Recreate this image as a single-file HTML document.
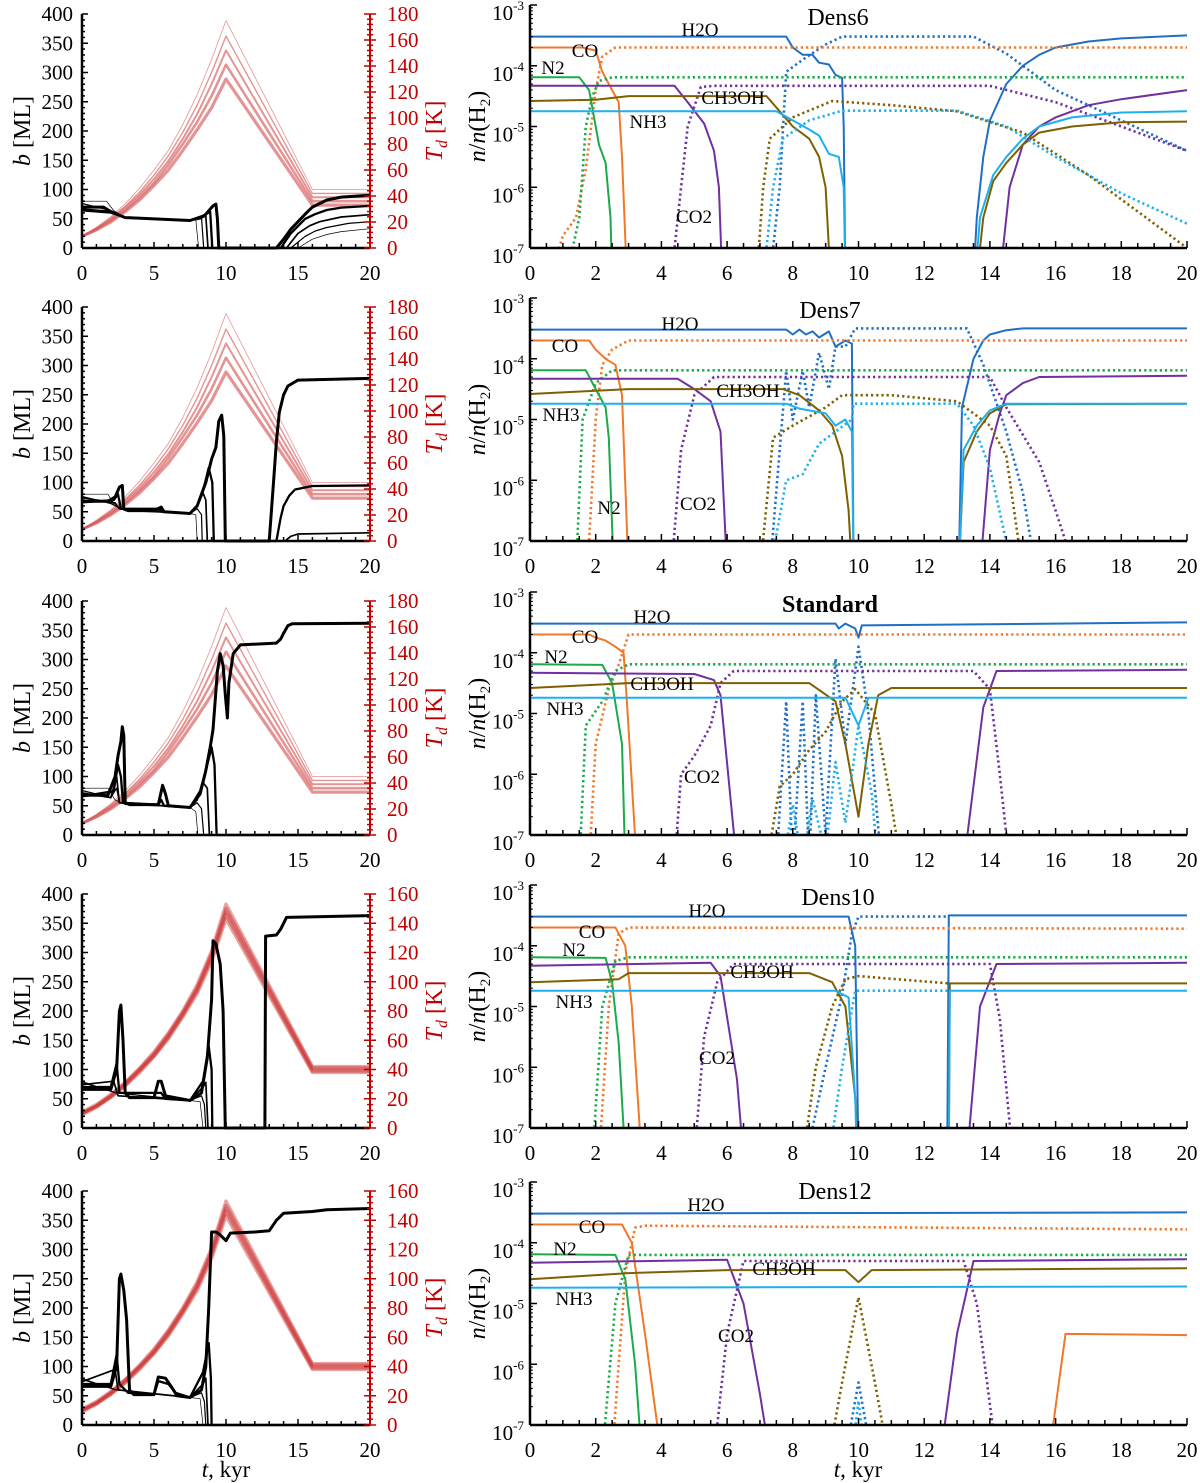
<!DOCTYPE html>
<html><head><meta charset="utf-8">
<style>
html,body{margin:0;padding:0;background:#fff;}
svg{display:block;font-family:"Liberation Serif",serif;}
</style></head>
<body>
<svg id="fig" width="1200" height="1483" viewBox="0 0 1200 1483" xmlns="http://www.w3.org/2000/svg"></svg>
<script>
// ---------- DATA ----------
const panelTitles = ["Dens6","Dens7","Standard","Dens10","Dens12"];
const tdAxisMax = [180,180,180,160,160];
const tdTimes = [0,1,2,3,4,5,6,7,8,9,10,16,20];
// Td profiles, rows 1-3
const tdProfilesA = [
 [9,16,24,34,46,60,75,95,118,145,175,45,45],
 [9,15,23,32,43,56,71,89,110,135,163,42,42],
 [9,15,22,31,41,53,67,84,103,126,152,39,39],
 [9,14,21,29,39,50,64,80,97,117,141,36,36],
 [9,14,20,28,37,48,60,75,91,108,130,33,33]
];
// Td profiles, rows 4-5
const tdProfilesB = [
 [11,16,23,31,41,52,65,80,98,121,153,42,42],
 [10,15,22,31,40,51,64,79,96,119,150,41,41],
 [10,15,22,30,40,50,63,78,95,118,148,40,40],
 [10,15,21,29,39,49,62,77,94,116,146,39,39],
 [9,14,21,29,38,49,61,76,92,114,143,38,38]
];
// b [ML] curves (t, b) per panel
const bCurves1 = [
 [[0,70],[1.5,70],[2,62],[3,52],[7.5,47],[8.5,55],[9.1,72],[9.3,75],[9.4,50],[9.5,0],[13.5,0],[14,15],[14.5,32],[15,45],[15.5,58],[16,70],[17,82],[18,87],[20,90]],
 [[0,66],[2,62],[3,52],[7.5,47],[8.4,55],[8.9,62],[9.05,0],[13.8,0],[14.5,25],[15.5,50],[16.2,58],[17,65],[18,69],[20,72]],
 [[0,64],[2,60],[3,52],[7.5,47],[8.2,50],[8.6,55],[8.75,0],[14.2,0],[15,25],[15.8,38],[16.5,45],[18,53],[20,57]],
 [[0,76],[2,64],[3,52],[7.5,47],[8,50],[8.3,52],[8.45,0],[14.5,0],[15.5,20],[16.2,29],[17,35],[18.5,42],[20,45]],
 [[0,80],[1.7,80],[2.2,64],[3,52],[7.5,47],[7.9,48],[8.1,0],[15,0],[16,15],[17,23],[18,28],[20,33]]
];
const bCurves2 = [
 [[0,68],[1.8,68],[2.3,75],[2.6,92],[2.8,95],[2.9,55],[3.2,52],[5,52],[5.5,58],[5.7,50],[7.5,47],[8,60],[8.6,100],[9,140],[9.3,160],[9.5,205],[9.7,215],[9.85,180],[9.95,0],[13,0],[13.3,100],[13.5,170],[13.7,220],[14,250],[14.3,265],[15,275],[20,278]],
 [[0,66],[2.2,70],[2.5,80],[2.7,55],[5.3,55],[5.6,50],[7.5,47],[8,60],[8.5,95],[8.8,125],[9.05,100],[9.15,0],[13.5,0],[13.8,40],[14,60],[14.4,78],[14.8,88],[16,94],[20,95]],
 [[0,74],[2.3,65],[2.6,55],[7.5,47],[8,60],[8.4,82],[8.6,70],[8.7,0],[14.1,0],[14.5,8],[15,12],[20,14]],
 [[0,76],[2,64],[3,52],[7.5,47],[8,55],[8.3,45],[8.35,0],[20,0]],
 [[0,80],[1.8,80],[2.3,60],[3,52],[7.5,47],[7.9,45],[8,0],[20,0]]
];
const bCurves3 = [
 [[0,68],[1.8,68],[2.3,100],[2.5,135],[2.7,160],[2.8,185],[2.9,170],[3,55],[3.3,52],[5.3,52],[5.6,85],[5.8,70],[6,50],[7.5,47],[8.2,70],[8.6,110],[8.9,150],[9.1,180],[9.4,280],[9.6,310],[9.8,290],[9.95,240],[10.1,200],[10.2,260],[10.5,310],[11,325],[13.5,328],[13.8,335],[14,345],[14.3,358],[14.6,361],[20,362]],
 [[0,66],[2.2,75],[2.5,120],[2.7,100],[2.85,55],[5.3,52],[5.5,60],[5.7,50],[7.5,47],[8.2,75],[8.6,110],[9,150],[9.2,120],[9.35,0],[20,0]],
 [[0,72],[2,64],[2.4,100],[2.6,55],[7.5,47],[8,60],[8.4,90],[8.7,80],[8.85,0],[20,0]],
 [[0,76],[2,64],[2.4,80],[2.6,55],[7.5,47],[8,55],[8.3,45],[8.45,0],[20,0]],
 [[0,80],[1.8,80],[2.3,60],[3,52],[7.5,47],[7.9,40],[8.05,0],[20,0]]
];
const bCurves4 = [
 [[0,66],[2,66],[2.4,100],[2.6,200],[2.7,210],[2.85,150],[3,60],[3.3,52],[5,52],[5.3,80],[5.5,80],[5.8,55],[7.5,47],[8.3,60],[8.7,120],[9,220],[9.1,320],[9.3,315],[9.6,280],[9.8,200],[9.95,0],[12.7,0],[12.75,328],[13.5,330],[13.8,340],[14.2,360],[20,363]],
 [[0,70],[2,70],[2.4,110],[2.6,60],[5.5,60],[5.8,50],[7.5,47],[8.4,80],[8.8,140],[9,100],[9.05,0],[20,0]],
 [[0,74],[2.2,80],[2.5,55],[7.5,47],[8.4,70],[8.6,78],[8.75,0],[20,0]],
 [[0,78],[2.4,60],[7.5,47],[8.3,55],[8.5,40],[8.6,0],[20,0]],
 [[0,80],[2.3,60],[7.5,47],[8.2,45],[8.4,0],[20,0]]
];
const bCurves5 = [
 [[0,66],[2,66],[2.4,100],[2.6,250],[2.7,258],[2.9,230],[3.1,180],[3.3,60],[3.6,52],[5,52],[5.3,82],[5.8,80],[6.3,62],[6.6,50],[7.5,47],[8.3,60],[8.6,100],[8.8,200],[9,330],[9.3,330],[9.6,325],[10,315],[10.3,328],[12,330],[13,332],[13.5,350],[14,362],[16,365],[17,368],[20,370]],
 [[0,70],[2,70],[2.4,120],[2.6,70],[3.2,55],[5,52],[5.3,75],[6,70],[6.5,55],[7.5,47],[8.4,90],[8.8,140],[8.95,80],[9,0],[20,0]],
 [[0,74],[2.3,95],[2.5,60],[7.5,47],[8.4,70],[8.6,80],[8.75,0],[20,0]],
 [[0,78],[2.4,60],[7.5,47],[8.3,55],[8.5,40],[8.6,0],[20,0]],
 [[0,80],[2.3,60],[7.5,47],[8.2,45],[8.4,0],[20,0]]
];
const bCurveSets = [bCurves1,bCurves2,bCurves3,bCurves4,bCurves5];
const bWidths = [3,2.3,1.7,1.2,0.7];

// Abundance series: [species, style, points(t, log10 n/nH2)], null = gap
const species = ["H2O","CO","N2","CO2","CH3OH","NH3"];
const speciesColors = ["#1f6fc4","#f07828","#1aab4a","#7030a0","#7f6000","#1eb0ee"];
const abund1 = [
 ["H2O","s",[[0,-3.52],[7.8,-3.52],[8,-3.7],[8.3,-3.82],[8.6,-3.82],[8.8,-3.95],[9.1,-3.98],[9.3,-4.15],[9.5,-4.2],[9.55,-5],[9.6,-7.5],null,[13.5,-7.5],[13.6,-6.5],[13.8,-5.5],[14,-4.9],[14.5,-4.3],[15,-4],[15.5,-3.82],[16,-3.7],[17,-3.6],[18,-3.55],[20,-3.5]]],
 ["H2O","g",[[7.3,-7.5],[7.6,-6],[7.8,-4.1],[8.3,-3.9],[9,-3.65],[9.5,-3.52],[13.5,-3.52],[14.5,-3.8],[16,-4.4],[18,-4.9],[20,-5.4]]],
 ["CO","s",[[0,-3.7],[1.6,-3.7],[2,-3.75],[2.2,-4.1],[2.5,-4.4],[2.7,-4.6],[2.8,-5.5],[2.95,-7.5]]],
 ["CO","g",[[0.6,-7.5],[1,-6.8],[1.4,-6.5],[1.7,-5.7],[2,-4.4],[2.2,-3.85],[2.6,-3.7],[20,-3.7]]],
 ["N2","s",[[0,-4.19],[1.5,-4.19],[1.8,-4.4],[2.1,-5.3],[2.3,-5.6],[2.45,-6.5],[2.5,-7.5]]],
 ["N2","g",[[1,-7.5],[1.3,-7],[1.5,-6.5],[1.7,-5],[1.9,-4.5],[2.1,-4.25],[2.5,-4.19],[20,-4.19]]],
 ["CO2","s",[[0,-4.33],[4.4,-4.33],[4.8,-4.6],[5.3,-4.95],[5.6,-5.4],[5.75,-6],[5.85,-7.5],null,[14.3,-7.5],[14.6,-6],[15,-5.3],[15.5,-5.0],[16,-4.85],[17,-4.65],[18,-4.55],[20,-4.4]]],
 ["CO2","g",[[4.3,-7.5],[4.5,-6.5],[4.8,-5],[5.2,-4.35],[5.6,-4.33],[14,-4.33],[16,-4.6],[18,-5],[20,-5.4]]],
 ["CH3OH","s",[[0,-4.58],[2,-4.56],[3,-4.5],[7.2,-4.5],[7.6,-4.75],[8,-5],[8.5,-5.2],[8.8,-5.5],[9,-6],[9.1,-7],[9.15,-7.5],null,[13.6,-7.5],[13.8,-6.5],[14.1,-5.9],[14.5,-5.6],[15,-5.3],[15.5,-5.1],[16.5,-5.0],[18,-4.93],[20,-4.92]]],
 ["CH3OH","g",[[6.9,-7.5],[7.1,-6],[7.3,-5.2],[8,-4.85],[9.2,-4.58],[11,-4.65],[13,-4.75],[15,-5.1],[17,-5.8],[19,-6.6],[20,-7]]],
 ["NH3","s",[[0,-4.75],[7.5,-4.75],[8,-4.9],[8.5,-5.05],[8.8,-5.15],[9.1,-5.45],[9.4,-5.5],[9.55,-6],[9.6,-7.5],null,[13.55,-7.5],[13.7,-6.5],[14.1,-5.8],[14.5,-5.5],[15,-5.2],[15.5,-5],[16.5,-4.85],[18,-4.77],[20,-4.75]]],
 ["NH3","g",[[7.1,-7.5],[7.4,-6],[7.7,-5.2],[8.5,-4.9],[9.5,-4.74],[13,-4.74],[14.5,-5],[16,-5.5],[18,-6.1],[20,-6.6]]]
];
const abund2 = [
 ["H2O","s",[[0,-3.52],[7.8,-3.52],[8,-3.6],[8.2,-3.52],[8.4,-3.6],[8.6,-3.55],[8.8,-3.65],[9.1,-3.55],[9.3,-3.8],[9.6,-3.7],[9.8,-3.75],[9.85,-7.5],null,[13.05,-7.5],[13.15,-4.8],[13.5,-4],[13.8,-3.7],[14,-3.6],[14.5,-3.53],[15,-3.5],[20,-3.5]]],
 ["H2O","g",[[7.3,-7.5],[7.6,-5.5],[7.8,-4.2],[8,-5],[8.3,-4.2],[8.5,-4.8],[8.8,-3.9],[9.1,-4.5],[9.3,-3.8],[9.6,-3.8],[9.9,-3.5],[13.3,-3.5],[13.8,-4.1],[14.5,-5.2],[15,-6.2],[15.4,-7.5]]],
 ["CO","s",[[0,-3.7],[1.8,-3.7],[2,-3.85],[2.3,-4],[2.6,-4.1],[2.8,-4.6],[3.0,-7.5]]],
 ["CO","g",[[1.75,-7.5],[2,-5],[2.2,-4.1],[2.5,-3.85],[3,-3.7],[20,-3.7]]],
 ["N2","s",[[0,-4.19],[1.7,-4.19],[2,-4.5],[2.3,-4.8],[2.4,-5.3],[2.55,-7.5]]],
 ["N2","g",[[1.4,-7.5],[1.6,-5],[2,-4.4],[2.5,-4.19],[20,-4.19]]],
 ["CO2","s",[[0,-4.33],[4.5,-4.33],[5,-4.5],[5.5,-4.7],[5.8,-5.2],[6,-7.5],null,[13.7,-7.5],[14,-5.5],[14.3,-4.9],[14.5,-4.6],[15,-4.4],[15.5,-4.3],[20,-4.28]]],
 ["CO2","g",[[4.3,-7.5],[4.6,-5.5],[5,-4.6],[5.6,-4.3],[14,-4.3],[14.5,-4.8],[15.5,-5.7],[16,-6.5],[16.6,-7.5]]],
 ["CH3OH","s",[[0,-4.58],[3,-4.5],[7.7,-4.5],[8.2,-4.6],[8.8,-4.85],[9.2,-5.1],[9.5,-5.6],[9.7,-6.5],[9.8,-7.5],null,[13.05,-7.5],[13.2,-5.7],[13.6,-5.2],[14,-4.9],[14.5,-4.75],[20,-4.74]]],
 ["CH3OH","g",[[7,-7.5],[7.4,-5.3],[8,-5.1],[9,-4.8],[9.5,-4.6],[11,-4.6],[13,-4.7],[14,-5.1],[14.5,-5.6],[15,-7.5]]],
 ["NH3","s",[[0,-4.74],[7.8,-4.74],[8.2,-4.82],[9,-4.9],[9.3,-5.1],[9.6,-5.0],[9.8,-5.2],[9.85,-7.5],null,[13.05,-7.5],[13.2,-5.5],[13.6,-5.1],[14,-4.85],[14.5,-4.74],[20,-4.74]]],
 ["NH3","g",[[7.3,-7.5],[7.8,-6],[8.3,-5.9],[8.8,-5.4],[9.3,-5.2],[9.8,-5],[9.85,-4.74],[13,-4.74],[13.5,-5.1],[14,-5.8],[14.7,-7.5]]]
];
const abund3 = [
 ["H2O","s",[[0,-3.52],[9.3,-3.52],[9.4,-3.6],[9.6,-3.52],[9.9,-3.6],[10,-3.75],[10.1,-3.55],[20,-3.5]]],
 ["H2O","g",[[7.5,-7.5],[7.8,-4.8],[8,-7.5],[8.3,-4.8],[8.5,-7.5],[8.7,-4.7],[9,-7],[9.3,-4.1],[9.6,-5.5],[10,-3.9],[10.3,-5],[10.7,-7.5]]],
 ["CO","s",[[0,-3.7],[1.8,-3.7],[2,-3.75],[2.3,-3.8],[2.6,-3.9],[2.85,-4],[2.95,-4.8],[3.25,-7.5]]],
 ["CO","g",[[1.8,-7.5],[2,-5.5],[2.4,-4.6],[2.7,-4.2],[3,-3.7],[20,-3.7]]],
 ["N2","s",[[0,-4.19],[2.2,-4.2],[2.5,-4.5],[2.8,-5.5],[2.9,-7.5]]],
 ["N2","g",[[1.5,-7.5],[1.7,-5.2],[2.2,-4.8],[2.6,-4.3],[3,-4.19],[20,-4.19]]],
 ["CO2","s",[[0,-4.33],[5,-4.35],[5.6,-4.45],[5.8,-4.7],[6.3,-7.5],null,[13.2,-7.5],[13.8,-4.9],[14.2,-4.3],[20,-4.28]]],
 ["CO2","g",[[4.4,-7.5],[4.6,-6],[5,-5.7],[5.5,-5.2],[5.8,-4.5],[6.2,-4.3],[13.5,-4.3],[14,-4.6],[14.3,-6],[14.6,-7.5]]],
 ["CH3OH","s",[[0,-4.58],[3,-4.5],[8.5,-4.5],[9.3,-4.8],[9.6,-5.5],[10,-6.7],[10.3,-5.5],[10.6,-4.7],[11,-4.58],[20,-4.58]]],
 ["CH3OH","g",[[7.2,-7.5],[7.6,-6.2],[8,-6],[8.5,-5.6],[9,-5.3],[9.5,-4.8],[9.9,-4.6],[10.5,-5],[11,-6.5],[11.3,-7.5]]],
 ["NH3","s",[[0,-4.74],[9.6,-4.74],[10,-5.2],[10.3,-4.74],[20,-4.74]]],
 ["NH3","g",[[7.7,-7.5],[8,-6.5],[8.3,-7.5],[8.6,-6.4],[9,-7.3],[9.3,-5.8],[9.6,-6.8],[10,-5.2],[10.4,-6.3],[10.6,-7.5]]]
];
const abund4 = [
 ["H2O","s",[[0,-3.52],[9.7,-3.52],[9.9,-4],[10,-7.5],null,[12.7,-7.5],[12.75,-3.5],[20,-3.5]]],
 ["H2O","g",[[8.4,-7.5],[9,-6],[9.5,-4.8],[9.8,-3.8],[10,-3.52],[12.75,-3.52]]],
 ["CO","s",[[0,-3.7],[2.6,-3.7],[2.9,-4],[3.1,-5],[3.4,-7.5]]],
 ["CO","g",[[2.1,-7.5],[2.4,-5],[2.7,-3.8],[3,-3.7],[20,-3.72]]],
 ["N2","s",[[0,-4.19],[2.3,-4.2],[2.5,-4.6],[2.7,-5.6],[2.9,-7.5]]],
 ["N2","g",[[1.9,-7.5],[2.2,-5],[2.6,-4.25],[3,-4.19],[20,-4.19]]],
 ["CO2","s",[[0,-4.33],[5.5,-4.28],[5.8,-4.5],[6.3,-6.2],[6.5,-7.5],null,[13.3,-7.5],[13.7,-5],[14.2,-4.3],[20,-4.28]]],
 ["CO2","g",[[5,-7.5],[5.3,-5.5],[5.7,-4.6],[6.2,-4.3],[14,-4.3],[14.3,-5.2],[14.7,-7.5]]],
 ["CH3OH","s",[[0,-4.6],[2.7,-4.55],[3,-4.45],[8.5,-4.45],[9.2,-4.6],[9.6,-5],[9.9,-6.5],[10,-7.5],null,[12.75,-7.5],[12.78,-4.62],[20,-4.62]]],
 ["CH3OH","g",[[8.3,-7.5],[8.7,-6],[9.2,-5],[9.6,-4.55],[10,-4.5],[12.75,-4.62]]],
 ["NH3","s",[[0,-4.74],[9.3,-4.74],[9.7,-4.85],[9.9,-6.5],[9.95,-7.5],null,[12.75,-7.5],[12.78,-4.74],[20,-4.74]]],
 ["NH3","g",[[9.1,-7.5],[9.5,-6],[9.9,-4.74],[12.75,-4.74]]]
];
const abund5 = [
 ["H2O","s",[[0,-3.52],[20,-3.5]]],
 ["H2O","g",[[9.6,-7.5],[10,-6.3],[10.4,-7.5]]],
 ["CO","s",[[0,-3.7],[2.8,-3.7],[3.1,-4],[3.5,-5.5],[4,-7.5],null,[15.8,-7.5],[16.3,-5.5],[20,-5.52]]],
 ["CO","g",[[2.5,-7.5],[2.9,-4.5],[3.2,-3.75],[3.5,-3.72],[20,-3.78]]],
 ["N2","s",[[0,-4.19],[2.6,-4.2],[2.9,-4.6],[3.2,-6],[3.4,-7.5]]],
 ["N2","g",[[2.2,-7.5],[2.6,-5],[3,-4.2],[20,-4.2]]],
 ["CO2","s",[[0,-4.33],[6,-4.28],[6.5,-5],[7,-6.5],[7.3,-7.5],null,[12.5,-7.5],[13,-5.5],[13.5,-4.3],[20,-4.27]]],
 ["CO2","g",[[5.6,-7.5],[6,-5.5],[6.5,-4.3],[13.2,-4.3],[13.6,-5],[14.2,-7.5]]],
 ["CH3OH","s",[[0,-4.6],[3,-4.5],[6,-4.45],[9.6,-4.45],[10,-4.65],[10.4,-4.45],[20,-4.42]]],
 ["CH3OH","g",[[9.1,-7.5],[9.5,-6.3],[10,-4.9],[10.5,-6.3],[10.9,-7.5]]],
 ["NH3","s",[[0,-4.74],[20,-4.72]]],
 ["NH3","g",[[9.8,-7.5],[10,-6.6],[10.2,-7.5]]]
];
const abundSets = [abund1,abund2,abund3,abund4,abund5];
// species label annotations (text, x, y)
const labelSets = [
 [["H2O",700,36],["CO",585,57],["N2",553,74],["CH3OH",733,104],["NH3",648,128],["CO2",694,223]],
 [["H2O",680,330],["CO",565,352],["NH3",561,421],["CH3OH",748,397],["N2",609,514],["CO2",698,510]],
 [["H2O",652,623],["CO",585,643],["N2",556,663],["CH3OH",662,690],["NH3",565,715],["CO2",702,783]],
 [["H2O",707,917],["CO",592,938],["N2",574,956],["CH3OH",762,978],["NH3",574,1008],["CO2",717,1064]],
 [["H2O",706,1211],["CO",592,1233],["N2",565,1255],["CH3OH",784,1275],["NH3",574,1305],["CO2",736,1342]]
];
const titlePos = [[838,25],[830,318],[830,612],[838,905],[835,1199]];

// ---------- GEOMETRY ----------
const rowBottom = [248,541,835,1128,1425];
const L = {x0:82, x1:370, h:234};
const R = {x0:530, x1:1187, h:243};
const NS = "http://www.w3.org/2000/svg";
const svg = document.getElementById('fig');

function mk(tag, attrs, parent){
  const e = document.createElementNS(NS, tag);
  for (const k in attrs) e.setAttribute(k, attrs[k]);
  (parent||svg).appendChild(e);
  return e;
}
function pathFrom(pts, fx, fy){
  let d = "", pen = false;
  for (const p of pts){
    if (p === null){ pen = false; continue; }
    d += (pen ? "L" : "M") + fx(p[0]).toFixed(1) + "," + fy(p[1]).toFixed(1);
    pen = true;
  }
  return d;
}

for (let r = 0; r < 5; r++){
  const B = rowBottom[r];
  // ===== LEFT PANEL =====
  const gL = mk('g', {});
  
  
  const lx = t => L.x0 + (L.x1 - L.x0) * t / 20;
  const ly = b => B - L.h * b / 400;
  const tmax = tdAxisMax[r];
  const ty = T => B - L.h * T / tmax;

  const profs = r < 3 ? tdProfilesA : tdProfilesB;
  profs.forEach((pr, i) => {
    const pts = tdTimes.map((t, k) => [t, pr[k]]);
    const p = mk('path', {d: pathFrom(pts, lx, ty), fill:'none',
      stroke: r < 3 ? 'rgba(214,90,90,0.65)' : 'rgba(205,50,50,0.45)',
      'stroke-width': r < 3 ? (0.8 + i*0.6) : 3.5, 'stroke-linejoin':'round'}, gL);
    
    
  });
  bCurveSets[r].forEach((c, i) => {
    const p = mk('path', {d: pathFrom(c, lx, ly), fill:'none', stroke:'#000',
      'stroke-width': bWidths[i], 'stroke-linejoin':'round'}, gL);
    
    
  });
  let ax = mk('line', {x1:L.x0, y1:B, x2:L.x0, y2:B-L.h, stroke:'#000', 'stroke-width':2.5}, gL);
  
  
  for (let v = 0; v <= 400; v += 10){
    const major = v % 50 === 0;
    mk('line', {x1:L.x0, x2:L.x0 + (major ? 6 : 3), y1:ly(v), y2:ly(v), stroke:'#000', 'stroke-width':1.5}, gL);
    if (major){
      const t = mk('text', {x:L.x0-9, y:ly(v)+7, 'text-anchor':'end', 'font-size':21}, gL);
      t.textContent = v;
      
      
    }
  }
  ax = mk('line', {x1:L.x0, y1:B, x2:L.x1, y2:B, stroke:'#000', 'stroke-width':2.5}, gL);
  
  
  for (let t = 0; t <= 20; t += 1){
    const major = t % 5 === 0;
    mk('line', {x1:lx(t), x2:lx(t), y1:B, y2:B - (major ? 6 : 4), stroke:'#000', 'stroke-width':1.5}, gL);
    if (major){
      const tx = mk('text', {x:lx(t), y:B+32, 'text-anchor':'middle', 'font-size':21}, gL);
      tx.textContent = t;
      
      
    }
  }
  ax = mk('line', {x1:L.x1, y1:B, x2:L.x1, y2:B-L.h, stroke:'#c00000', 'stroke-width':2}, gL);
  
  
  for (let v = 0; v <= tmax; v += 4){
    const major = v % 20 === 0;
    mk('line', {x1:L.x1 - (major ? 6 : 3), x2:L.x1 + (major ? 6 : 3), y1:ty(v), y2:ty(v), stroke:'#c00000', 'stroke-width':1.5}, gL);
  }
  for (let v = 0; v <= tmax; v += 20){
    const t = mk('text', {x:L.x1+17, y:ty(v)+7, 'text-anchor':'start', 'font-size':21, fill:'#c00000'}, gL);
    t.textContent = v;
    
    
  }
  const cy = B - L.h/2;
  let at = mk('text', {x:0, y:0, transform:`translate(30,${cy}) rotate(-90)`, 'text-anchor':'middle', 'font-size':24}, gL);
  at.innerHTML = '<tspan font-style="italic">b</tspan> [ML]';
  
  
  at = mk('text', {x:0, y:0, transform:`translate(442,${cy}) rotate(-90)`, 'text-anchor':'middle', 'font-size':24, fill:'#c00000'}, gL);
  at.innerHTML = '<tspan font-style="italic">T</tspan><tspan font-style="italic" font-size="16" dy="5">d</tspan><tspan dy="-5"> [K]</tspan>';
  
  

  // ===== RIGHT PANEL =====
  const gR = mk('g', {});
  
  
  const rx = t => R.x0 + (R.x1 - R.x0) * t / 20;
  const ry = lg => B - R.h * (lg + 7) / 4;
  const cp = mk('clipPath', {id:'clip'+r}, gR);
  mk('rect', {x:R.x0, y:B-R.h-2, width:R.x1-R.x0+4, height:R.h+2}, cp);
  const gS = mk('g', {'clip-path':`url(#clip${r})`}, gR);
  abundSets[r].forEach(s => {
    const col = speciesColors[species.indexOf(s[0])];
    const p = mk('path', {d: pathFrom(s[2], rx, ry), fill:'none', stroke:col,
      'stroke-width': s[1] === 's' ? 2 : 2.6, 'stroke-dasharray': s[1] === 'g' ? '2.2,3' : 'none',
      'stroke-linejoin':'round'}, gS);
    
    
  });
  ax = mk('line', {x1:R.x0, y1:B, x2:R.x0, y2:B-R.h, stroke:'#000', 'stroke-width':2.5}, gR);
  
  
  for (let e = -7; e <= -3; e++){
    mk('line', {x1:R.x0, x2:R.x0+7, y1:ry(e), y2:ry(e), stroke:'#000', 'stroke-width':1.5}, gR);
    if (e < -3){
      for (let m = 2; m <= 9; m++){
        const yy = ry(e + Math.log10(m));
        mk('line', {x1:R.x0, x2:R.x0+3, y1:yy, y2:yy, stroke:'#000', 'stroke-width':1}, gR);
      }
    }
    const t = mk('text', {x:R.x0-6, y:ry(e)+15, 'text-anchor':'end', 'font-size':21}, gR);
    t.innerHTML = '10<tspan font-size="13" dy="-10">' + e + '</tspan>';
    
    
  }
  ax = mk('line', {x1:R.x0, y1:B, x2:R.x1, y2:B, stroke:'#000', 'stroke-width':2.5}, gR);
  
  
  for (let k = 0; k <= 40; k++){
    const t = k/2, major = k % 4 === 0;
    mk('line', {x1:rx(t), x2:rx(t), y1:B, y2:B - (major ? 7 : 5), stroke:'#000', 'stroke-width':1.5}, gR);
    if (major){
      const tx = mk('text', {x:rx(t), y:B+32, 'text-anchor':'middle', 'font-size':21}, gR);
      tx.textContent = t;
      
      
    }
  }
  at = mk('text', {x:0, y:0, transform:`translate(485,${B - R.h/2}) rotate(-90)`, 'text-anchor':'middle', 'font-size':24}, gR);
  at.innerHTML = '<tspan font-style="italic">n</tspan>/<tspan font-style="italic">n</tspan>(H<tspan font-size="15" dy="5">2</tspan><tspan dy="-5">)</tspan>';
  
  
  const ti = mk('text', {x:titlePos[r][0], y:titlePos[r][1], 'text-anchor':'middle', 'font-size':24,
    'font-weight': r === 2 ? 'bold' : 'normal'}, gR);
  ti.textContent = panelTitles[r];
  
  
  labelSets[r].forEach(lb => {
    const t = mk('text', {x:lb[1], y:lb[2], 'text-anchor':'middle', 'font-size':19}, gR);
    t.textContent = lb[0];
    
    
  });
}
let xt = mk('text', {x:226, y:1477, 'text-anchor':'middle', 'font-size':23});
xt.innerHTML = '<tspan font-style="italic">t</tspan>, kyr';


xt = mk('text', {x:858, y:1477, 'text-anchor':'middle', 'font-size':23});
xt.innerHTML = '<tspan font-style="italic">t</tspan>, kyr';


</script>
</body></html>
